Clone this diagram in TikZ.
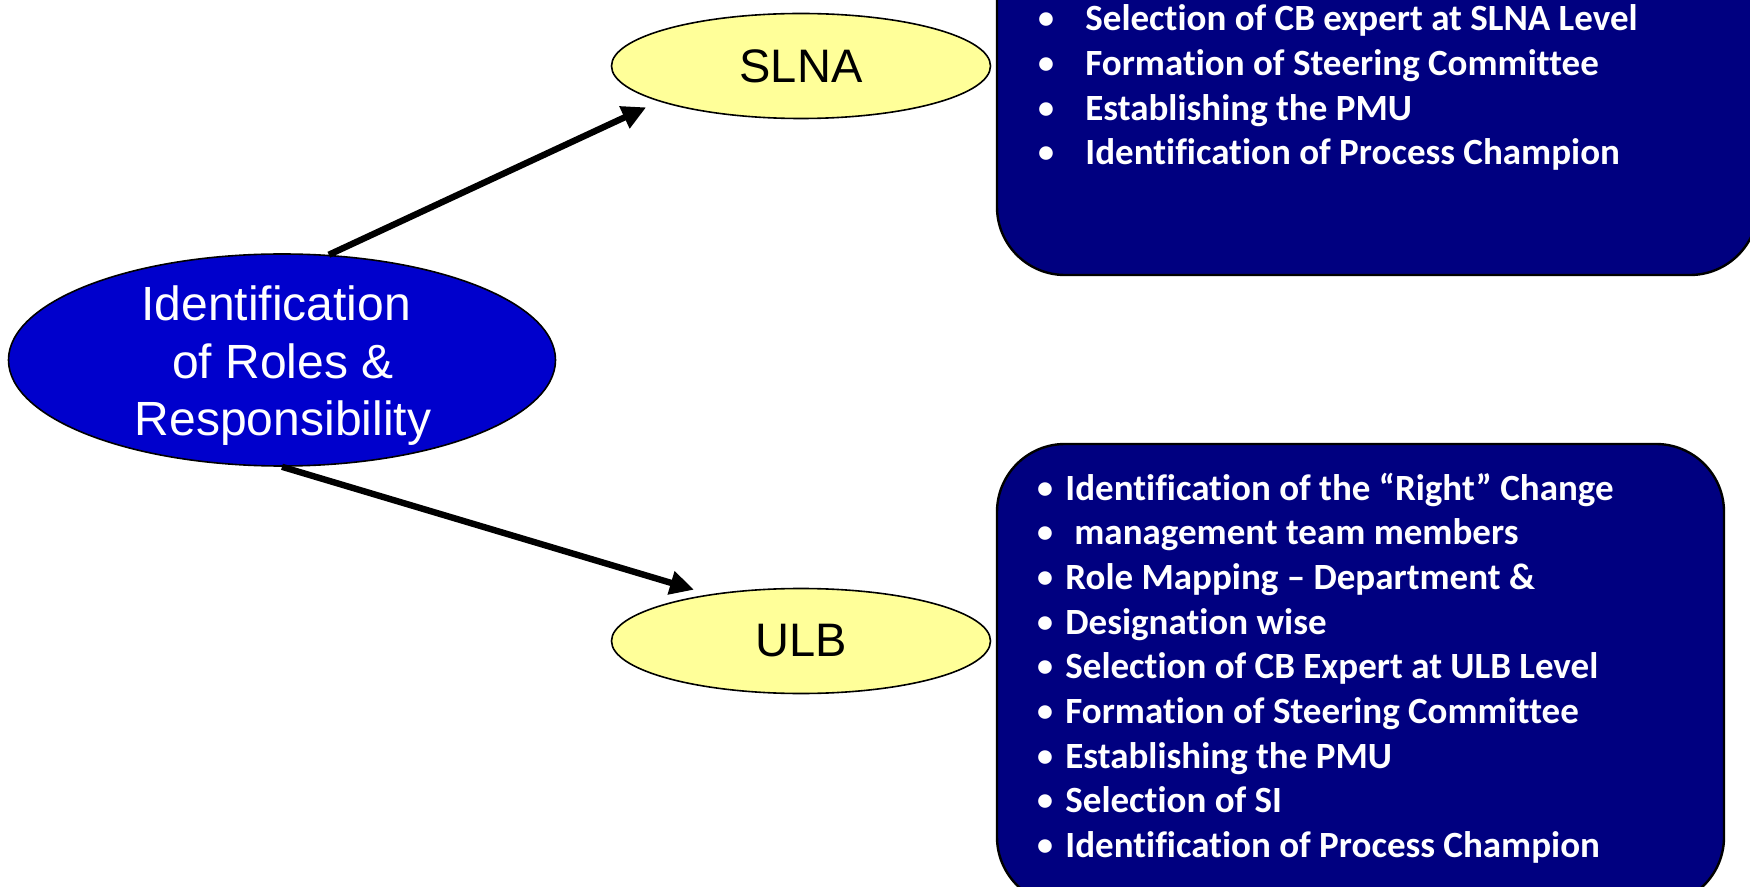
\documentclass[tikz,border=0pt]{standalone}
\usepackage{fontspec}
\setmainfont{Liberation Sans}
\newfontfamily\carlito{Carlito}[Ligatures=NoCommon]
\usetikzlibrary{shapes.geometric,arrows.meta}
\definecolor{rolesblue}{RGB}{0,0,204}
\definecolor{boxnavy}{RGB}{0,0,128}
\definecolor{pale}{RGB}{255,255,153}
\begin{document}
\begin{tikzpicture}[x=0.5pt,y=-0.5pt,
  bigoval/.style={ellipse,draw=black,line width=0.8pt,fill=rolesblue,
    minimum width=273.5pt,minimum height=106pt,inner sep=0pt},
  bigtext/.style={align=center,text=white,inner sep=0pt,
    font=\fontsize{24}{28.75}\selectfont},
  leveloval/.style={ellipse,draw=black,line width=0.8pt,fill=pale,
    minimum width=189.5pt,minimum height=52.5pt,inner sep=0pt,
    font=\fontsize{23.5}{28}\selectfont},
  panel/.style={draw=black,line width=1.2pt,fill=boxnavy,rounded corners=34pt},
  item/.style={anchor=base west,inner sep=0pt,text=white,
    font=\carlito\bfseries\fontsize{18.5}{22}\selectfont},
  dot/.style={anchor=base,inner sep=0pt,text=white,
    font=\carlito\bfseries\fontsize{16}{20}\selectfont},
  link/.style={-{Triangle[length=12pt,width=11.5pt]},line width=3.2pt}
]
\clip (0,0) rectangle (1750,887);
\fill[white] (0,0) rectangle (1750,887);

% task panels
\draw[panel] (997,-120) rectangle (1758,275);
\draw[panel] (997,444) rectangle (1724,905);

% SLNA tasks
\foreach \txt [count=\i] in {
  {Selection of CB expert at SLNA Level},
  {Formation of Steering Committee},
  {Establishing the PMU},
  {Identification of Process Champion}}
{
  \node[dot] (sb\i) at (1046,{29+44.6*(\i-1)}) {•};
  \node[item] (st\i) at (1085,{31+44.6*(\i-1)}) {\txt};
}

% ULB tasks
\foreach \xt/\txt [count=\i] in {
  1065/{Identification of the “Right” Change},
  1074/{management team members},
  1065/{Role Mapping – Department \&},
  1065/{Designation wise},
  1065/{Selection of CB Expert at ULB Level},
  1065/{Formation of Steering Committee},
  1065/{Establishing the PMU},
  1065/{Selection of SI},
  1065/{Identification of Process Champion}}
{
  \node[dot] (ub\i) at (1045,{498+44.7*(\i-1)}) {•};
  \node[item] (ut\i) at (\xt,{500+44.7*(\i-1)}) {\txt};
}

% ovals
\node[bigoval] (main) at (282,360) {};
\node[bigtext] (maintxt) at (283,366)
  {Identification\hspace*{6.7pt}\\of Roles \&\\Responsibility};
\node[leveloval] (slna) at (801,66) {SLNA};
\node[leveloval] (ulb) at (801,641) {ULB};

% connectors
\draw[link,shorten >=7pt] (main.66) -- (slna.194);
\draw[link,shorten >=8pt] (main.south) -- (ulb.153);
\end{tikzpicture}
\end{document}
